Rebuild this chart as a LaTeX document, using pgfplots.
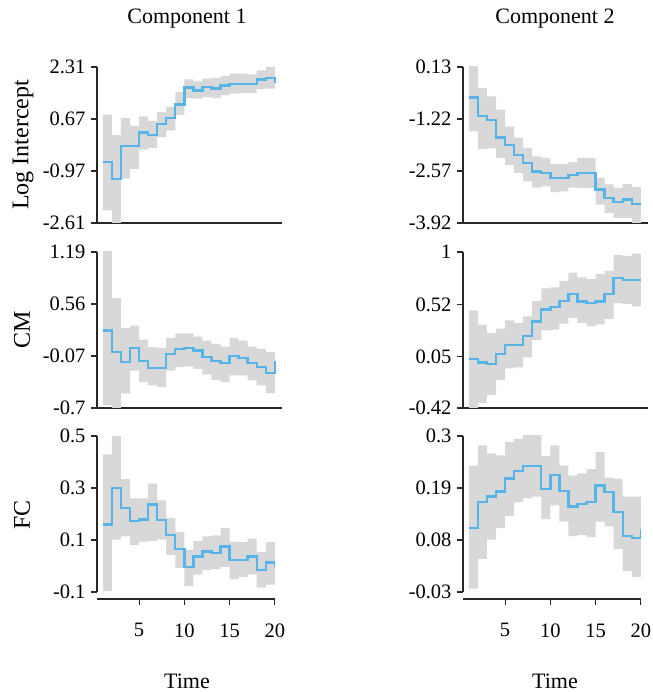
\documentclass[border=0pt]{standalone}
\usepackage{fontspec}
\setmainfont{Liberation Serif}
\usepackage{pgfplots}
\pgfplotsset{compat=1.18}
\usepackage{pgfplotstable}
\usepgfplotslibrary{fillbetween}
\definecolor{lineblue}{RGB}{86,180,233}
\definecolor{bandc}{RGB}{216,216,216}
\definecolor{axcol}{RGB}{40,40,40}

\pgfplotstableread{
t m lo up
1 -0.69 -2.21 0.81
2 -1.23 -2.90 0.16
3 -0.18 -1.21 0.70
4 -0.18 -0.90 0.45
5 0.24 -0.30 0.75
6 0.16 -0.24 0.61
7 0.52 0.10 0.89
8 0.71 0.31 1.05
9 1.13 0.79 1.52
10 1.66 1.33 1.92
11 1.57 1.31 1.86
12 1.67 1.36 1.94
13 1.63 1.33 1.96
14 1.72 1.42 2.03
15 1.77 1.47 2.10
16 1.77 1.49 2.10
17 1.77 1.49 2.08
18 1.92 1.61 2.20
19 1.96 1.63 2.31
20 1.82 1.63 2.31
}\dA

\pgfplotstableread{
t m lo up
1 -0.66 -1.54 0.20
2 -1.15 -2.00 -0.42
3 -1.24 -1.98 -0.63
4 -1.70 -2.23 -0.98
5 -1.90 -2.41 -1.41
6 -2.15 -2.62 -1.71
7 -2.36 -2.84 -1.97
8 -2.58 -3.00 -2.19
9 -2.62 -2.97 -2.23
10 -2.75 -3.12 -2.39
11 -2.75 -3.10 -2.39
12 -2.67 -3.00 -2.34
13 -2.62 -3.01 -2.23
14 -2.62 -3.01 -2.23
15 -3.05 -3.44 -2.75
16 -3.27 -3.66 -2.92
17 -3.37 -3.79 -3.01
18 -3.31 -3.79 -2.91
19 -3.42 -4.00 -2.99
20 -3.42 -4.00 -2.99
}\dB

\pgfplotstableread{
t m lo up
1 0.237 -0.668 1.30
2 -0.024 -0.75 0.631
3 -0.145 -0.527 0.269
4 0.028 -0.246 0.297
5 -0.133 -0.386 0.128
6 -0.213 -0.426 0.036
7 -0.213 -0.447 0.028
8 -0.044 -0.246 0.149
9 0.016 -0.205 0.205
10 0.028 -0.197 0.205
11 -0.004 -0.225 0.165
12 -0.085 -0.294 0.116
13 -0.133 -0.358 0.076
14 -0.157 -0.386 0.044
15 -0.073 -0.306 0.149
16 -0.093 -0.306 0.116
17 -0.157 -0.366 0.044
18 -0.205 -0.426 0.016
19 -0.278 -0.519 -0.024
20 -0.125 -0.519 -0.024
}\dC

\pgfplotstableread{
t m lo up
1 0.025 -0.45 0.468
2 -0.005 -0.375 0.338
3 -0.02 -0.30 0.263
4 0.07 -0.164 0.302
5 0.152 -0.059 0.377
6 0.152 -0.05 0.353
7 0.236 0.04 0.413
8 0.368 0.197 0.552
9 0.477 0.287 0.669
10 0.498 0.293 0.678
11 0.552 0.347 0.738
12 0.618 0.401 0.813
13 0.549 0.353 0.768
14 0.537 0.323 0.753
15 0.549 0.341 0.798
16 0.618 0.392 0.829
17 0.762 0.534 0.973
18 0.744 0.528 0.964
19 0.744 0.504 0.985
20 0.744 0.504 0.985
}\dD

\pgfplotstableread{
t m lo up
1 0.159 -0.097 0.429
2 0.299 0.101 0.50
3 0.224 0.114 0.334
4 0.172 0.081 0.26
5 0.179 0.094 0.26
6 0.237 0.097 0.317
7 0.176 0.101 0.252
8 0.120 0.043 0.185
9 0.066 -0.007 0.131
10 -0.003 -0.077 0.062
11 0.036 -0.033 0.097
12 0.055 -0.016 0.114
13 0.049 -0.012 0.118
14 0.075 -0.003 0.146
15 0.023 -0.051 0.094
16 0.023 -0.042 0.092
17 0.036 -0.033 0.105
18 -0.016 -0.083 0.053
19 0.013 -0.072 0.092
20 -0.003 -0.072 0.092
}\dE

\pgfplotstableread{
t m lo up
1 0.105 -0.023 0.237
2 0.160 0.040 0.280
3 0.172 0.081 0.263
4 0.183 0.105 0.259
5 0.210 0.131 0.287
6 0.226 0.160 0.294
7 0.237 0.168 0.303
8 0.237 0.172 0.303
9 0.188 0.124 0.258
10 0.217 0.153 0.280
11 0.184 0.119 0.238
12 0.151 0.088 0.216
13 0.156 0.091 0.221
14 0.160 0.086 0.230
15 0.195 0.119 0.266
16 0.181 0.109 0.212
17 0.139 0.061 0.210
18 0.089 0.014 0.172
19 0.084 0.002 0.172
20 0.103 0.002 0.172
}\dF

\pgfplotsset{
 panel/.style={scale only axis, height=156pt, xmin=0.35, anchor=south west,
   axis x line*=bottom, axis y line*=left,
   axis line style={axcol, line width=1.1pt, -},
   tick style={axcol, line width=1.1pt},
   tick align=outside, major tick length=6pt,
   ticklabel style={font=\fontsize{20.5}{23}\selectfont},
   yticklabel style={xshift=-2pt},
   },
 toprow/.style={panel, width=184.6pt, xmax=20.75, xtick=\empty},
 botrow/.style={panel, width=177.8pt, xmax=20, xtick={5,10,15,20},
   xticklabels={5,10,15,20},
   x axis line style={yshift=-7pt}, xtick style={yshift=-7pt},
   xticklabel style={yshift=-22pt}},
}

\newcommand{\band}[2]{%
  \addplot[name path=up#2, draw=none, const plot mark left] table[x=t,y=up]{#1};
  \addplot[name path=lo#2, draw=none, const plot mark left] table[x=t,y=lo]{#1};
  \addplot[fill=bandc, draw=none] fill between[of=up#2 and lo#2];
  \addplot[lineblue, line width=2.4pt, const plot mark left] table[x=t,y=m]{#1};
}

\begin{document}
\begin{tikzpicture}

\begin{axis}[toprow, at={(97pt,469pt)}, ymin=-2.61, ymax=2.31,
  ytick={-2.61,-0.97,0.67,2.31}, yticklabels={-2.61,-0.97,0.67,2.31}]
\band{\dA}{A}
\end{axis}

\begin{axis}[toprow, at={(463pt,469pt)}, ymin=-3.92, ymax=0.13,
  ytick={-3.92,-2.57,-1.22,0.13}, yticklabels={-3.92,-2.57,-1.22,0.13}]
\band{\dB}{B}
\end{axis}

\begin{axis}[toprow, at={(97pt,284pt)}, ymin=-0.7, ymax=1.19,
  ytick={-0.7,-0.07,0.56,1.19}, yticklabels={-0.7,-0.07,0.56,1.19}]
\band{\dC}{C}
\end{axis}

\begin{axis}[toprow, at={(463pt,284pt)}, ymin=-0.42, ymax=1,
  ytick={-0.42,0.05,0.52,1}, yticklabels={-0.42,0.05,0.52,1}]
\band{\dD}{D}
\end{axis}

\begin{axis}[botrow, at={(97pt,100pt)}, ymin=-0.1, ymax=0.5,
  ytick={-0.1,0.1,0.3,0.5}, yticklabels={-0.1,0.1,0.3,0.5}]
\band{\dE}{E}
\end{axis}

\begin{axis}[botrow, at={(463pt,100pt)}, ymin=-0.03, ymax=0.3,
  ytick={-0.03,0.08,0.19,0.3}, yticklabels={-0.03,0.08,0.19,0.3}]
\band{\dF}{F}
\end{axis}

\begin{scope}[every node/.style={font=\fontsize{22}{26}\selectfont, inner sep=0pt}]
\node at (187pt,673pt) {Component 1};
\node at (555pt,673pt) {Component 2};
\node at (187pt,11pt) {Time};
\node at (555pt,11pt) {Time};
\end{scope}
\begin{scope}[every node/.style={font=\fontsize{24}{28}\selectfont, inner sep=0pt, rotate=90}]
\node at (23pt,547pt) {Log Intercept};
\node at (22pt,362pt) {CM};
\node at (22pt,177pt) {FC};
\end{scope}
\pgfresetboundingbox
\path[use as bounding box] (0,0) rectangle (652pt,692pt);
\end{tikzpicture}
\end{document}
